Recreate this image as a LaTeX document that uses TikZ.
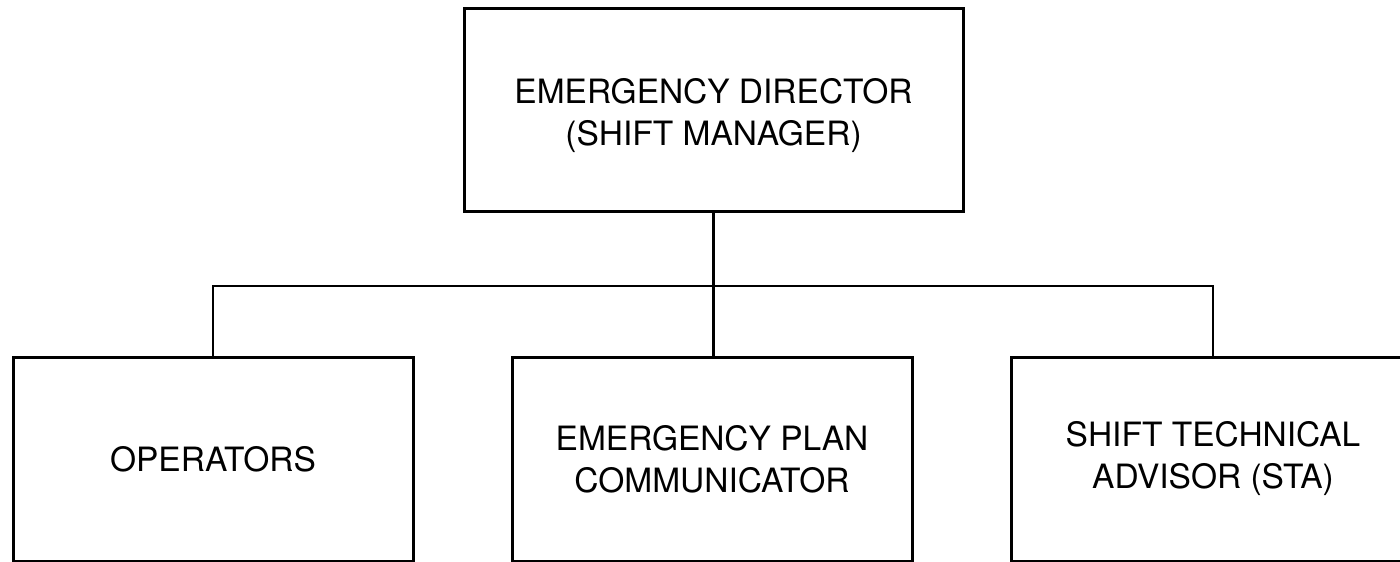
\documentclass[tikz,border=0pt]{standalone}
\usepackage{fontspec}
\setmainfont{TeX Gyre Heros}
\begin{document}
\begin{tikzpicture}[x=1pt,y=-1pt,
  orgbox/.style={draw=black, line width=3pt, rectangle, inner sep=0pt,
    minimum width=400pt, minimum height=204pt, align=center,
    font=\fontsize{33.5}{42}\selectfont},
  link/.style={draw=black, line width=2.6pt}]
\clip (0,0) rectangle (1400,562);
\fill[white] (0,0) rectangle (1400,562);
\node[orgbox, minimum width=499pt, minimum height=203pt] (ed) at (713.5,110) {\rule{0pt}{37pt}EMERGENCY DIRECTOR\\(SHIFT MANAGER)};
\node[orgbox] (ops) at (213,459) {OPERATORS};
\node[orgbox] (epc) at (712,459) {EMERGENCY PLAN\\COMMUNICATOR};
\node[orgbox, minimum width=404pt] (sta) at (1213,459) {SHIFT TECHNICAL\\ADVISOR (STA)};
\coordinate (bus) at (713,286);
\draw[link] (ed.south) -- (ed.south |- epc.north);
\draw[link] (ops.north) |- (bus) -| (sta.north);
\end{tikzpicture}
\end{document}
